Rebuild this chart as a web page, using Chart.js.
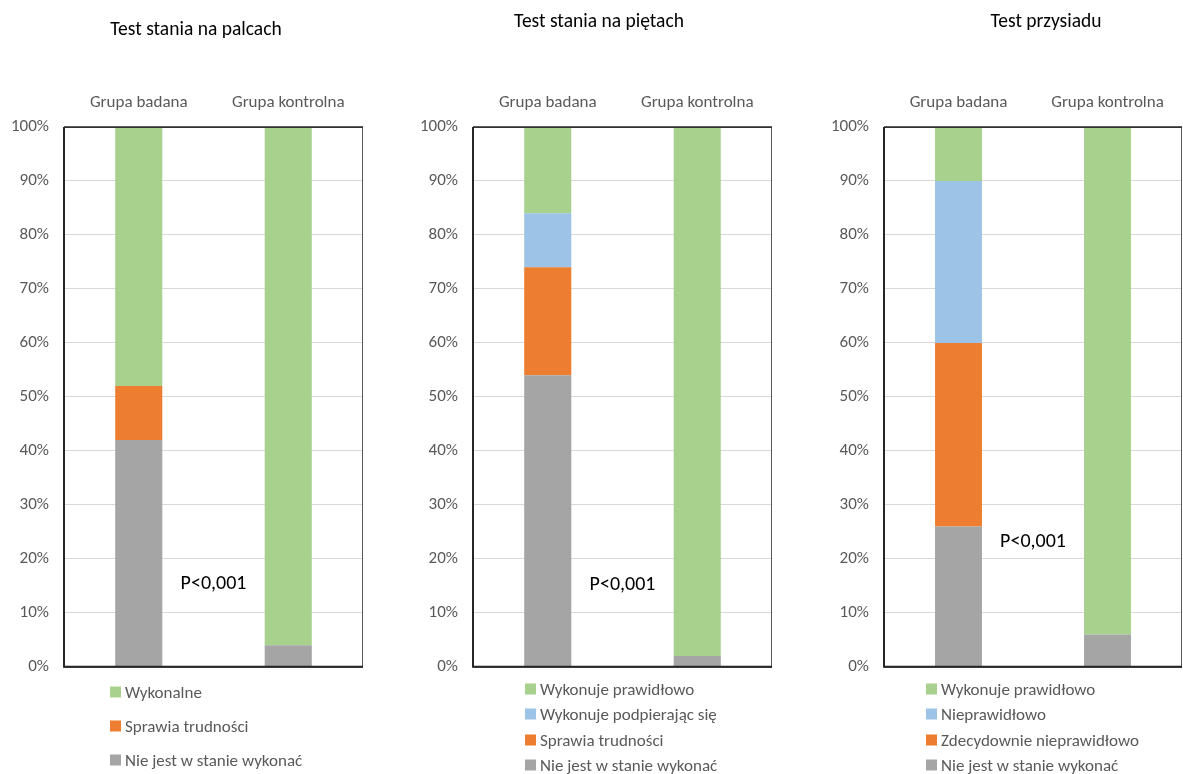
<!DOCTYPE html>
<html lang="pl">
<head>
<meta charset="utf-8">
<title>Testy sprawności – grupa badana i kontrolna</title>
<script src="https://cdn.jsdelivr.net/npm/chart.js@4/dist/chart.umd.min.js"></script>
<style>
  html, body { margin: 0; padding: 0; background: #fff; }
  body { width: 1183px; height: 774px; position: relative; overflow: hidden;
         font-family: "Carlito", "Liberation Sans", Arial, sans-serif; }
  canvas { position: absolute; top: 0; }
  .title { position: absolute; font-size: 19.5px; color: #000; white-space: nowrap; transform: translate(-50%, -50%); }
  .legend { position: absolute; font-size: 17px; color: #595959; }
  .legend div { position: absolute; white-space: nowrap; transform: translateY(-50%); }
  .legend span { display: inline-block; width: 11px; height: 11px; margin-right: 4px; vertical-align: 0px; }
</style>
</head>
<body>
<canvas id="c1" width="365" height="692" style="left:0px"></canvas>
<canvas id="c2" width="364" height="692" style="left:410px"></canvas>
<canvas id="c3" width="363" height="692" style="left:820px"></canvas>

<script>
// Groups compared in every test
const groups = ['Grupa badana', 'Grupa kontrolna'];
const yTicks = [0, 10, 20, 30, 40, 50, 60, 70, 80, 90, 100];
const pLabel = 'P<0,001';

// Test stania na palcach (%)
const toesTitle = 'Test stania na palcach';
const toesLabels = ['Nie jest w stanie wykonać', 'Sprawia trudności', 'Wykonalne'];
const toesUnable = [42, 4];
const toesDifficult = [10, 0];
const toesDone = [48, 96];

// Test stania na piętach (%)
const heelsTitle = 'Test stania na piętach';
const heelsLabels = ['Nie jest w stanie wykonać', 'Sprawia trudności', 'Wykonuje podpierając się', 'Wykonuje prawidłowo'];
const heelsUnable = [54, 2];
const heelsDifficult = [20, 0];
const heelsSupported = [10, 0];
const heelsCorrect = [16, 98];

// Test przysiadu (%)
const squatTitle = 'Test przysiadu';
const squatLabels = ['Nie jest w stanie wykonać', 'Zdecydownie nieprawidłowo', 'Nieprawidłowo', 'Wykonuje prawidłowo'];
const squatUnable = [26, 6];
const squatStrong = [34, 0];
const squatIncorrect = [30, 0];
const squatCorrect = [10, 94];

const GRAY = '#a5a5a5', ORANGE = '#ed7d31', BLUE = '#9dc3e6', GREEN = '#a9d18e';
const FONT = '"Carlito", "Liberation Sans", Arial, sans-serif';

// Outline around the plot area plus the p-value note
const framePlugin = {
  id: 'frame',
  afterDraw(chart, args, opts) {
    const { ctx, chartArea: a, scales } = chart;
    ctx.save();
    ctx.strokeStyle = '#595959';
    ctx.lineWidth = 1;
    ctx.strokeRect(a.left + 0.5, a.top + 0.5, a.right - a.left - 1, a.bottom - a.top);
    ctx.strokeStyle = '#262626';
    ctx.lineWidth = 2;
    ctx.beginPath();
    ctx.moveTo(a.left, a.top);
    ctx.lineTo(a.left, a.bottom);
    ctx.lineTo(a.right, a.bottom);
    ctx.stroke();
    ctx.beginPath();
    ctx.lineWidth = 1.5;
    ctx.moveTo(a.left, a.top);
    ctx.lineTo(a.right, a.top);
    ctx.stroke();
    if (opts.note) {
      ctx.fillStyle = '#000';
      ctx.font = '20px ' + FONT;
      ctx.textAlign = 'center';
      ctx.textBaseline = 'middle';
      ctx.fillText(opts.note.text, scales.x.getPixelForValue(opts.note.x), scales.y.getPixelForValue(opts.note.y));
    }
    ctx.restore();
  }
};

function makeChart(id, yAxisWidth, padRight, sets, note) {
  const chart = new Chart(document.getElementById(id), {
    type: 'bar',
    data: {
      labels: groups,
      datasets: sets.map(s => ({
        label: s.label, data: s.data, backgroundColor: s.color,
        borderWidth: 0, barPercentage: 0.315, categoryPercentage: 1
      }))
    },
    options: {
      responsive: false,
      animation: false,
      devicePixelRatio: 1,
      layout: { padding: { top: 0, left: 0, right: padRight, bottom: 0 } },
      plugins: { legend: { display: false }, tooltip: { enabled: false }, frame: { note } },
      scales: {
        x: {
          position: 'top', stacked: true,
          grid: { display: false, drawTicks: false },
          border: { display: false },
          ticks: { color: '#595959', font: { family: FONT, size: 17 }, padding: 14 },
          afterFit(s) { s.height = 127; }
        },
        y: {
          stacked: true, min: 0, max: 100,
          afterBuildTicks(s) { s.ticks = yTicks.map(v => ({ value: v })); },
          grid: { color: '#d9d9d9', lineWidth: 1, drawTicks: false },
          border: { display: false },
          ticks: { color: '#595959', font: { family: FONT, size: 17 }, padding: 15, callback: v => v + '%' },
          afterFit(s) { s.width = yAxisWidth; }
        }
      }
    },
    plugins: [framePlugin]
  });
  return chart;
}

makeChart('c1', 64, 2, [
  { label: toesLabels[0], data: toesUnable, color: GRAY },
  { label: toesLabels[1], data: toesDifficult, color: ORANGE },
  { label: toesLabels[2], data: toesDone, color: GREEN }
], { text: pLabel, x: 0.5, y: 15.4 });

makeChart('c2', 63, 2, [
  { label: heelsLabels[0], data: heelsUnable, color: GRAY },
  { label: heelsLabels[1], data: heelsDifficult, color: ORANGE },
  { label: heelsLabels[2], data: heelsSupported, color: BLUE },
  { label: heelsLabels[3], data: heelsCorrect, color: GREEN }
], { text: pLabel, x: 0.5, y: 15.2 });

makeChart('c3', 64, 1, [
  { label: squatLabels[0], data: squatUnable, color: GRAY },
  { label: squatLabels[1], data: squatStrong, color: ORANGE },
  { label: squatLabels[2], data: squatIncorrect, color: BLUE },
  { label: squatLabels[3], data: squatCorrect, color: GREEN }
], { text: pLabel, x: 0.5, y: 23.2 });

// Titles
function addTitle(text, cx, cy) {
  const d = document.createElement('div');
  d.className = 'title'; d.textContent = text;
  d.style.left = cx + 'px'; d.style.top = cy + 'px';
  document.body.appendChild(d);
}
addTitle(toesTitle, 196, 28);
addTitle(heelsTitle, 599, 20);
addTitle(squatTitle, 1046, 20);

// Legends, listed top-down from the top of the stack
function addLegend(left, rows, items) {
  const box = document.createElement('div');
  box.className = 'legend';
  box.style.left = left + 'px'; box.style.top = '0px';
  items.forEach((it, i) => {
    const row = document.createElement('div');
    row.style.top = rows[i] + 'px';
    const sw = document.createElement('span');
    sw.style.background = it.color;
    row.appendChild(sw);
    row.appendChild(document.createTextNode(it.label));
    box.appendChild(row);
  });
  document.body.appendChild(box);
}
addLegend(110, [692, 726, 760], [
  { label: toesLabels[2], color: GREEN },
  { label: toesLabels[1], color: ORANGE },
  { label: toesLabels[0], color: GRAY }
]);
addLegend(525, [689, 714, 740, 765], [
  { label: heelsLabels[3], color: GREEN },
  { label: heelsLabels[2], color: BLUE },
  { label: heelsLabels[1], color: ORANGE },
  { label: heelsLabels[0], color: GRAY }
]);
addLegend(926, [689, 714, 740, 765], [
  { label: squatLabels[3], color: GREEN },
  { label: squatLabels[2], color: BLUE },
  { label: squatLabels[1], color: ORANGE },
  { label: squatLabels[0], color: GRAY }
]);
</script>
</body>
</html>
